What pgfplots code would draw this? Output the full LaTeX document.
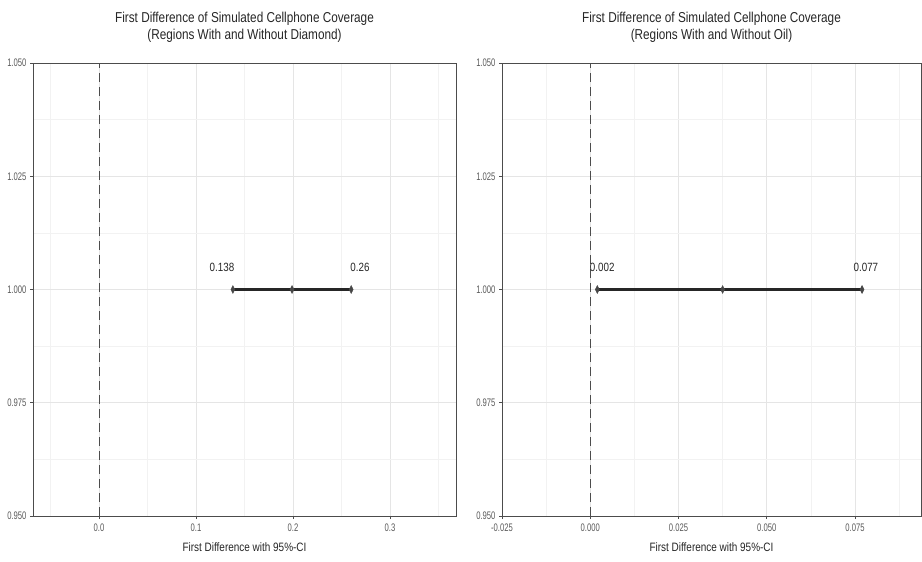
\documentclass[border=0pt]{standalone}
\usepackage{fontspec}
\setmainfont{Liberation Sans}[FakeStretch=0.82]
\newfontfamily\tickfont{Liberation Sans}[FakeStretch=0.70]
\usepackage{pgfplots}
\pgfplotsset{compat=1.18}
\definecolor{gridmaj}{gray}{0.90}
\definecolor{gridmin}{gray}{0.95}
\definecolor{tickgray}{gray}{0.35}
\definecolor{border}{gray}{0.30}
\pgfplotsset{
  fdstyle/.style={
    scale only axis, height=453bp,
    ymin=0.95, ymax=1.05,
    ytick={0.95,0.975,1,1.025,1.05},
    minor ytick={0.9625,0.9875,1.0125,1.0375},
    yticklabel style={/pgf/number format/fixed, /pgf/number format/fixed zerofill, /pgf/number format/precision=3},
    scaled x ticks=false, scaled y ticks=false,
    grid=both,
    major grid style={gridmaj, line width=0.6bp},
    minor grid style={gridmin, line width=0.4bp},
    axis line style={border, line width=0.8bp},
    tick style={border, line width=0.6bp},
    tick align=outside, major tick length=3bp, minor tick length=0pt,
    xtick pos=bottom, ytick pos=left,
    /pgf/number format/assume math mode=true,
    ticklabel style={font=\tickfont\fontsize{11}{12}\selectfont, text=tickgray},
    xticklabel style={yshift=-1.5bp},
    title style={font=\fontsize{14.4}{17}\selectfont, align=center, at={(0.5,1)}, anchor=south, yshift=11bp, text=black!85},
    xlabel style={font=\fontsize{12.2}{14}\selectfont, at={(0.5,0)}, anchor=center, yshift=-31bp, text=black!85},
    clip=false,
  },
  cimark/.style={black!85, line width=2.1bp, mark=diamond*, mark size=2.6bp,
    mark options={yscale=1.5, fill=gray!55!black, draw=black!70, line width=0.5bp}},
  cilabel/.style={only marks, mark=none, nodes near coords, point meta=explicit symbolic,
    nodes near coords style={anchor=center, font=\fontsize{12}{14}\selectfont, text=black!85}},
}
\begin{document}
\begin{tikzpicture}
\useasboundingbox (0,0) rectangle (922bp,562bp);
% Left panel
\begin{axis}[fdstyle, at={(33bp,46bp)}, anchor=south west, width=423bp,
  xmin=-0.068, xmax=0.368,
  xtick={0,0.1,0.2,0.3},
  minor xtick={-0.05,0.05,0.15,0.25,0.35},
  xticklabel style={/pgf/number format/fixed, /pgf/number format/fixed zerofill, /pgf/number format/precision=1},
  title={First Difference of Simulated Cellphone Coverage\\(Regions With and Without Diamond)},
  xlabel={First Difference with 95\%-CI}]
\addplot[gray!60!black, line width=0.9bp, dash pattern=on 9bp off 5bp] coordinates {(0,0.95) (0,1.05)};
\addplot[cimark] coordinates {(0.138,1) (0.199,1) (0.26,1)};
\addplot[cilabel] table[meta=label] {
x y label
0.1268 1.0049 0.138
0.269 1.0049 0.26
};
\end{axis}
% Right panel
\begin{axis}[fdstyle, at={(502bp,46bp)}, anchor=south west, width=419bp,
  xmin=-0.025, xmax=0.0937,
  xtick={-0.025,0,0.025,0.05,0.075},
  minor xtick={-0.0125,0.0125,0.0375,0.0625,0.0875},
  xticklabel style={/pgf/number format/fixed, /pgf/number format/fixed zerofill, /pgf/number format/precision=3},
  title={First Difference of Simulated Cellphone Coverage\\(Regions With and Without Oil)},
  xlabel={First Difference with 95\%-CI}]
\addplot[gray!60!black, line width=0.9bp, dash pattern=on 9bp off 5bp] coordinates {(0,0.95) (0,1.05)};
\addplot[cimark] coordinates {(0.002,1) (0.0375,1) (0.077,1)};
\addplot[cilabel] table[meta=label] {
x y label
0.0034 1.0049 0.002
0.0781 1.0049 0.077
};
\end{axis}
\end{tikzpicture}
\end{document}
